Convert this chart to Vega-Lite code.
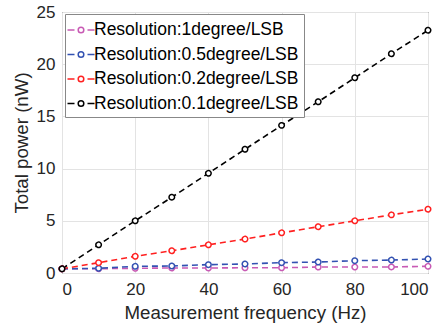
{
  "$schema": "https://vega.github.io/schema/vega-lite/v6.json",
  "autosize": {"type": "none"},
  "padding": {"left": 62, "top": 12, "right": 17, "bottom": 57},
  "width": 366,
  "height": 261,
  "background": "white",
  "config": {
    "font": "Liberation Sans",
    "view": {"stroke": "#262626", "strokeWidth": 1}
  },
  "data": {"values": [
    {"f": 0, "p": 0.4, "s": "Resolution:1degree/LSB"},
    {"f": 10, "p": 0.41, "s": "Resolution:1degree/LSB"},
    {"f": 20, "p": 0.45, "s": "Resolution:1degree/LSB"},
    {"f": 30, "p": 0.48, "s": "Resolution:1degree/LSB"},
    {"f": 40, "p": 0.48, "s": "Resolution:1degree/LSB"},
    {"f": 50, "p": 0.5, "s": "Resolution:1degree/LSB"},
    {"f": 60, "p": 0.5, "s": "Resolution:1degree/LSB"},
    {"f": 70, "p": 0.57, "s": "Resolution:1degree/LSB"},
    {"f": 80, "p": 0.57, "s": "Resolution:1degree/LSB"},
    {"f": 90, "p": 0.58, "s": "Resolution:1degree/LSB"},
    {"f": 100, "p": 0.64, "s": "Resolution:1degree/LSB"},
    {"f": 0, "p": 0.4, "s": "Resolution:0.5degree/LSB"},
    {"f": 10, "p": 0.45, "s": "Resolution:0.5degree/LSB"},
    {"f": 20, "p": 0.64, "s": "Resolution:0.5degree/LSB"},
    {"f": 30, "p": 0.67, "s": "Resolution:0.5degree/LSB"},
    {"f": 40, "p": 0.8, "s": "Resolution:0.5degree/LSB"},
    {"f": 50, "p": 0.86, "s": "Resolution:0.5degree/LSB"},
    {"f": 60, "p": 0.99, "s": "Resolution:0.5degree/LSB"},
    {"f": 70, "p": 1.05, "s": "Resolution:0.5degree/LSB"},
    {"f": 80, "p": 1.18, "s": "Resolution:0.5degree/LSB"},
    {"f": 90, "p": 1.24, "s": "Resolution:0.5degree/LSB"},
    {"f": 100, "p": 1.34, "s": "Resolution:0.5degree/LSB"},
    {"f": 0, "p": 0.4, "s": "Resolution:0.2degree/LSB"},
    {"f": 10, "p": 0.99, "s": "Resolution:0.2degree/LSB"},
    {"f": 20, "p": 1.6, "s": "Resolution:0.2degree/LSB"},
    {"f": 30, "p": 2.13, "s": "Resolution:0.2degree/LSB"},
    {"f": 40, "p": 2.7, "s": "Resolution:0.2degree/LSB"},
    {"f": 50, "p": 3.25, "s": "Resolution:0.2degree/LSB"},
    {"f": 60, "p": 3.85, "s": "Resolution:0.2degree/LSB"},
    {"f": 70, "p": 4.43, "s": "Resolution:0.2degree/LSB"},
    {"f": 80, "p": 5.0, "s": "Resolution:0.2degree/LSB"},
    {"f": 90, "p": 5.57, "s": "Resolution:0.2degree/LSB"},
    {"f": 100, "p": 6.11, "s": "Resolution:0.2degree/LSB"},
    {"f": 0, "p": 0.4, "s": "Resolution:0.1degree/LSB"},
    {"f": 10, "p": 2.7, "s": "Resolution:0.1degree/LSB"},
    {"f": 20, "p": 5.0, "s": "Resolution:0.1degree/LSB"},
    {"f": 30, "p": 7.26, "s": "Resolution:0.1degree/LSB"},
    {"f": 40, "p": 9.55, "s": "Resolution:0.1degree/LSB"},
    {"f": 50, "p": 11.85, "s": "Resolution:0.1degree/LSB"},
    {"f": 60, "p": 14.14, "s": "Resolution:0.1degree/LSB"},
    {"f": 70, "p": 16.4, "s": "Resolution:0.1degree/LSB"},
    {"f": 80, "p": 18.7, "s": "Resolution:0.1degree/LSB"},
    {"f": 90, "p": 21.0, "s": "Resolution:0.1degree/LSB"},
    {"f": 100, "p": 23.25, "s": "Resolution:0.1degree/LSB"}
  ]},
  "mark": {
    "type": "line",
    "strokeDash": [6, 4],
    "strokeWidth": 1.6,
    "point": {"filled": false, "size": 30, "strokeWidth": 1.5, "fill": "white", "strokeDash": [1, 0]}
  },
  "encoding": {
    "x": {
      "field": "f", "type": "quantitative",
      "scale": {"domain": [0, 100], "nice": false},
      "axis": {
        "title": "Measurement frequency (Hz)",
        "values": [0, 20, 40, 60, 80, 100],
        "grid": true, "gridColor": "#e3e3e3",
        "domain": false, "ticks": false,
        "labelFontSize": 17, "labelColor": "#262626", "labelPadding": 8,
        "titleFontSize": 18.7, "titleFontWeight": "normal", "titleColor": "#262626", "titlePadding": 6
      }
    },
    "y": {
      "field": "p", "type": "quantitative",
      "scale": {"domain": [0, 25], "nice": false},
      "axis": {
        "title": "Total power (nW)",
        "values": [0, 5, 10, 15, 20, 25],
        "grid": true, "gridColor": "#e3e3e3",
        "domain": false, "ticks": false,
        "labelFontSize": 17, "labelColor": "#262626", "labelPadding": 7,
        "titleFontSize": 18.7, "titleFontWeight": "normal", "titleColor": "#262626", "titlePadding": 5
      }
    },
    "color": {
      "field": "s", "type": "nominal",
      "scale": {
        "domain": ["Resolution:1degree/LSB", "Resolution:0.5degree/LSB", "Resolution:0.2degree/LSB", "Resolution:0.1degree/LSB"],
        "range": ["#c85ab4", "#3352b2", "#ff2020", "#000000"]
      },
      "legend": {
        "title": null,
        "orient": "none",
        "legendX": 3,
        "legendY": 2,
        "padding": 5,
        "strokeColor": "#888888",
        "fillColor": "white",
        "labelFontSize": 17.5,
        "labelLimit": 0,
        "labelColor": "#000000",
        "labelOffset": 2,
        "rowPadding": 4.5,
        "symbolType": "M-1.35,0H-0.65M-0.28,0A0.28,0.28 0 1 0 0.28,0A0.28,0.28 0 1 0 -0.28,0M0.65,0H1.35",
        "symbolSize": 400,
        "symbolStrokeWidth": 1.5,
        "symbolFillColor": "transparent"
      }
    }
  }
}
